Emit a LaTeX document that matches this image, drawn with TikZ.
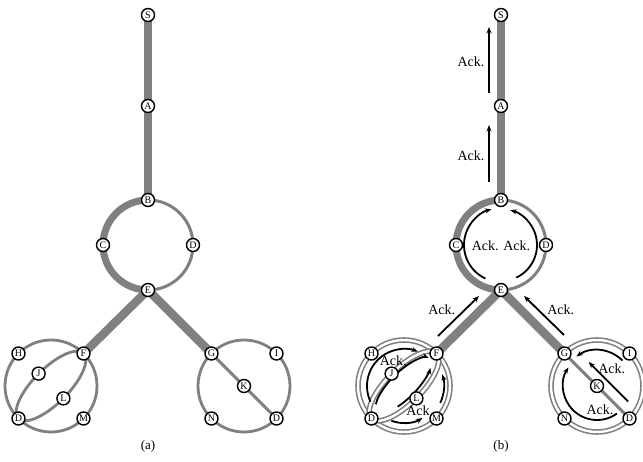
\documentclass[tikz,border=0pt]{standalone}
\usepackage{fontspec}
\setmainfont{Liberation Serif}
\usetikzlibrary{arrows.meta,calc}
\pgfdeclarelayer{bg}
\pgfdeclarelayer{mid}
\pgfsetlayers{bg,mid,main}
\tikzset{
  nd/.style={circle,draw=black,line width=1.4pt,fill=white,inner sep=0pt,minimum size=13pt,font=\fontsize{10}{10}\selectfont},
  greythick/.style={draw=gray,line width=8.5pt},
  greyhalf/.style={draw=gray,line width=7pt},
  greythin/.style={draw=gray,line width=3pt},
  ringA/.style={draw=gray,line width=2.8pt},
  ringB/.style={draw=gray,line width=1.6pt,double=white,double distance=2.4pt},
  ackarr/.style={draw=black,line width=1.8pt,-{Stealth[length=6.5pt,width=5pt]}},
  acklbl/.style={font=\fontsize{14}{14}\selectfont,inner sep=0pt},
  caplbl/.style={font=\fontsize{13}{13}\selectfont,inner sep=0pt}
}
\newcommand\netbase[2]{%
\node[nd] (#1S) at (148,-15) {S};
\node[nd] (#1A) at (148,-106) {A};
\node[nd] (#1B) at (148,-200) {B};
\node[nd] (#1C) at (103,-245) {C};
\node[nd] (#1D) at (193,-245) {D};
\node[nd] (#1E) at (148,-290) {E};
\node[nd] (#1F) at (83.5,-353.5) {F};
\node[nd] (#1H) at (18.5,-353.5) {H};
\node[nd] (#1J) at (38.6,-373.6) {J};
\node[nd] (#1L) at (63.4,-398.4) {L};
\node[nd] (#1M) at (83.5,-418.5) {M};
\node[nd] (#1P) at (18.5,-418.5) {D};
\node[nd] (#1G) at (211.5,-353.5) {G};
\node[nd] (#1I) at (276.5,-353.5) {I};
\node[nd] (#1K) at (244,-386) {K};
\node[nd] (#1N) at (211.5,-418.5) {N};
\node[nd] (#1Q) at (276.5,-418.5) {D};
\begin{pgfonlayer}{bg}
\draw[greythick] (#1S.center) -- (#1A.center) -- (#1B.center);
\draw[greyhalf] (#1B.center) arc[start angle=90,end angle=270,radius=45];
\draw[greythin] (#1B.center) arc[start angle=90,end angle=-90,radius=45];
\draw[greythick] (#1E.center) -- (#1F.center);
\draw[greythick] (#1E.center) -- (#1G.center);
\draw[#2] (51,-386) circle[radius=46];
\begin{scope}[shift={(51,-386)},rotate=45]
\draw[#2] (0,0) ellipse[x radius=46,y radius=17.5];
\end{scope}
\draw[greythin] (#1G.center) -- (#1Q.center);
\draw[#2] (244,-386) circle[radius=46];
\end{pgfonlayer}
}
\begin{document}
\begin{tikzpicture}[x=1pt,y=1pt]
\useasboundingbox (0,0) rectangle (643,-462);
% (a)
\netbase{a}{ringA}
\node[caplbl] (capa) at (148,-446) {(a)};
% (b)
\begin{scope}[xshift=353pt]
\netbase{b}{ringB}
\node[caplbl] (capb) at (148,-446) {(b)};
\begin{pgfonlayer}{mid}
% vertical acks
\coordinate (v1s) at (136,-93); \coordinate (v1e) at (136,-27);
\coordinate (v2s) at (136,-182); \coordinate (v2e) at (136,-125);
\draw[ackarr] (v1s) -- (v1e);
\draw[ackarr] (v2s) -- (v2e);
% big ring acks
\begin{scope}[shift={(148,-245)}]
\draw[ackarr] (245:37) arc[start angle=245,end angle=105,radius=37];
\draw[ackarr] (-65:36) arc[start angle=-65,end angle=75,radius=36];
\end{scope}
% diagonal acks
\coordinate (d1s) at (85,-336); \coordinate (d1e) at (126,-296);
\coordinate (d2s) at (211,-335); \coordinate (d2e) at (171,-296);
\draw[ackarr] (d1s) -- (d1e);
\draw[ackarr] (d2s) -- (d2e);
% left small circle acks
\begin{scope}[shift={(51,-386)}]
\draw[ackarr] (205:37) arc[start angle=205,end angle=68,radius=37];
\draw[ackarr] (250:37) arc[start angle=250,end angle=300,radius=37];
\draw[ackarr] (-25:40) arc[start angle=-25,end angle=17,radius=40];
\end{scope}
\begin{scope}[shift={(51,-386)},rotate=45]
\draw[ackarr] (150:38 and 14) arc[start angle=150,end angle=10,x radius=38,y radius=14];
\draw[ackarr] (238:36 and 12) arc[start angle=238,end angle=331,x radius=36,y radius=12];
\end{scope}
% right small circle acks
\begin{scope}[shift={(244,-386)},rotate=-45]
\draw[ackarr] (33,11) -- (-23,11);
\end{scope}
\begin{scope}[shift={(244,-386)}]
\draw[ackarr] (45:36) arc[start angle=45,end angle=125,radius=36];
\draw[ackarr] (-54:34) arc[start angle=-54,end angle=-213,radius=34];
\end{scope}
\end{pgfonlayer}
% labels
\node[acklbl] (l1) at (118,-62) {Ack.};
\node[acklbl] (l2) at (118,-156) {Ack.};
\node[acklbl] (l3) at (148,-246) {Ack. Ack.};
\node[acklbl] (l4) at (88.7,-310) {Ack.};
\node[acklbl] (l5) at (207.7,-310) {Ack.};
\node[acklbl] (l6) at (40.3,-361) {Ack.};
\node[acklbl] (l7) at (65,-411) {Ack};
\node[acklbl] (l8) at (258.7,-368.3) {Ack.};
\node[acklbl] (l9) at (247,-410) {Ack.};
\end{scope}
\end{tikzpicture}
\end{document}
